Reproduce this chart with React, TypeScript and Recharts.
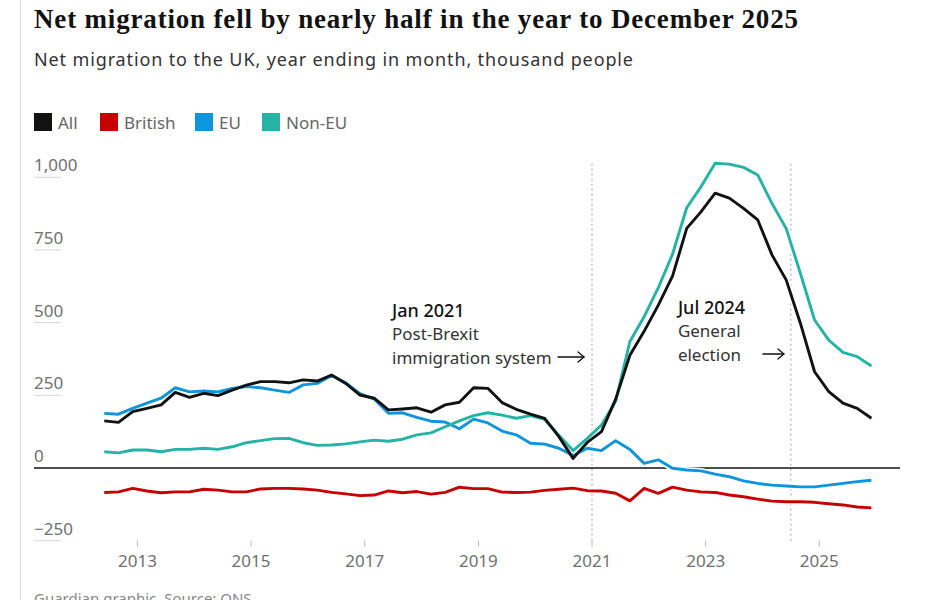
import React from 'react';
import { LineChart, Line, XAxis, YAxis, ReferenceLine } from 'recharts';

const periods = [
  'Jun 2012', 'Sep 2012', 'Dec 2012',
  'Mar 2013', 'Jun 2013', 'Sep 2013', 'Dec 2013',
  'Mar 2014', 'Jun 2014', 'Sep 2014', 'Dec 2014',
  'Mar 2015', 'Jun 2015', 'Sep 2015', 'Dec 2015',
  'Mar 2016', 'Jun 2016', 'Sep 2016', 'Dec 2016',
  'Mar 2017', 'Jun 2017', 'Sep 2017', 'Dec 2017',
  'Mar 2018', 'Jun 2018', 'Sep 2018', 'Dec 2018',
  'Mar 2019', 'Jun 2019', 'Sep 2019', 'Dec 2019',
  'Mar 2020', 'Jun 2020', 'Sep 2020', 'Dec 2020',
  'Mar 2021', 'Jun 2021', 'Sep 2021', 'Dec 2021',
  'Mar 2022', 'Jun 2022', 'Sep 2022', 'Dec 2022',
  'Mar 2023', 'Jun 2023', 'Sep 2023', 'Dec 2023',
  'Mar 2024', 'Jun 2024', 'Sep 2024', 'Dec 2024',
  'Mar 2025', 'Jun 2025', 'Sep 2025', 'Dec 2025',
];

const allValues = [
  162, 157, 194,
  205, 217, 260, 243,
  257, 249, 268, 285,
  297, 297, 293, 303,
  299, 320, 291, 251,
  240, 200, 203, 207,
  192, 217, 226, 276,
  274, 225, 202, 185,
  171, 108, 33, 88,
  125, 237, 388, 470,
  560, 660, 824, 881,
  945, 928, 893, 853,
  733, 647, 498, 331,
  263, 223, 205, 171,
];

const britishValues = [
  -84, -82, -70,
  -79, -85, -82, -82,
  -73, -76, -82, -82,
  -72, -70, -70, -72,
  -76, -84, -89, -95,
  -93, -79, -85, -81,
  -90, -84, -66, -71,
  -71, -83, -84, -83,
  -77, -73, -69, -78,
  -79, -87, -113, -70,
  -87, -66, -76, -82,
  -84, -93, -99, -107,
  -114, -116, -116, -118,
  -123, -127, -134, -137,
];

const euValues = [
  188, 185, 205,
  223, 240, 276, 262,
  265, 262, 274, 280,
  276, 268, 260, 286,
  291, 318, 293, 256,
  237, 188, 190, 174,
  161, 158, 135, 168,
  155, 127, 114, 85,
  82, 68, 43, 68,
  60, 94, 64, 16,
  28, -1, -7, -10,
  -21, -30, -44, -53,
  -59, -62, -65, -65,
  -59, -53, -47, -42,
];

const nonEuValues = [
  56, 52, 62,
  62, 56, 64, 64,
  68, 64, 73, 87,
  94, 101, 102, 87,
  78, 79, 83, 90,
  96, 92, 99, 114,
  121, 142, 162, 180,
  190, 182, 171, 180,
  167, 113, 60, 102,
  148, 230, 435, 520,
  620, 735, 895, 967,
  1048, 1045, 1034, 1008,
  910, 824, 670, 509,
  440, 398, 383, 351,
];

const xTicks = [2013, 2015, 2017, 2019, 2021, 2023, 2025];
const yTicks = [-250, 0, 250, 500, 750, 1000];

const MONTHS: Record<string, number> = {
  Jan: 0, Feb: 1, Mar: 2, Apr: 3, May: 4, Jun: 5,
  Jul: 6, Aug: 7, Sep: 8, Oct: 9, Nov: 10, Dec: 11,
};
const toYear = (p: string) => {
  const [m, y] = p.split(' ');
  return Number(y) + MONTHS[m] / 12;
};

const data = periods.map((p, i) => ({
  t: toYear(p),
  period: p,
  all: allValues[i],
  british: britishValues[i],
  eu: euValues[i],
  nonEu: nonEuValues[i],
}));

const series = [
  { key: 'eu', name: 'EU', color: '#0f95db' },
  { key: 'nonEu', name: 'Non-EU', color: '#25b3a5' },
  { key: 'british', name: 'British', color: '#c70000' },
  { key: 'all', name: 'All', color: '#121212' },
];

const legendItems = [
  { name: 'All', color: '#121212', x: 34 },
  { name: 'British', color: '#c70000', x: 100 },
  { name: 'EU', color: '#0f95db', x: 195 },
  { name: 'Non-EU', color: '#25b3a5', x: 262 },
];

const SANS = "'Noto Sans', 'Open Sans', sans-serif";
const SERIF = "'Liberation Serif', 'DejaVu Serif', serif";

const fmtY = (v: number) => {
  if (v < 0) return '\u2212' + Math.abs(v).toLocaleString('en-GB');
  return v.toLocaleString('en-GB');
};

const YLabel = (props: any) => {
  const { viewBox, value } = props;
  const x = viewBox.x;
  const y = viewBox.y;
  return (
    <g>
      {value !== 0 && (
        <line x1={x} x2={x + 27} y1={y} y2={y} stroke="#d6d6d6" strokeWidth={1} />
      )}
      <text x={x} y={y - 6} fill="#707070" fontSize={17} fontFamily={SANS}>
        {fmtY(value)}
      </text>
    </g>
  );
};

const Arrow = ({ x1, x2, y }: { x1: number; x2: number; y: number }) => (
  <g stroke="#121212" strokeWidth={1.3} fill="none" strokeLinecap="round" strokeLinejoin="round">
    <path d={`M${x1},${y} H${x2}`} />
    <path d={`M${x2 - 6},${y - 5} L${x2},${y} L${x2 - 6},${y + 5}`} />
  </g>
);

const Annot = (props: any) => {
  const { viewBox, head, lines, textDx, arrowFrom, arrowGap, baseY } = props;
  const lx = viewBox.x;
  const tx = lx - textDx;
  return (
    <g>
      <text x={tx} y={baseY} fill="#121212" fontSize={18} fontWeight={500} fontFamily={SANS}>
        {head}
      </text>
      {lines.map((l: string, i: number) => (
        <text key={i} x={tx} y={baseY + 24 * (i + 1) - 1} fill="#333" fontSize={17} fontFamily={SANS}>
          {l}
        </text>
      ))}
      <Arrow x1={lx - arrowFrom} x2={lx - arrowGap} y={baseY + 40} />
    </g>
  );
};

export default function App() {
  return (
    <div style={{ position: 'absolute', left: 0, top: 0, width: 936, height: 600, background: '#fff', overflow: 'hidden' }}>
      <svg width={936} height={600} style={{ position: 'absolute', left: 0, top: 0 }}>
        <line x1={20.5} x2={20.5} y1={0} y2={600} stroke="#dcdcdc" strokeWidth={1} />
        <text x={34} y={28} fontFamily={SERIF} fontWeight={700} fontSize={27} fill="#121212"
          textLength={764} lengthAdjust="spacing">
          Net migration fell by nearly half in the year to December 2025
        </text>
        <text x={34} y={66} fontFamily={SANS} fontSize={18} fill="#333"
          textLength={599} lengthAdjust="spacing">
          Net migration to the UK, year ending in month, thousand people
        </text>
        {legendItems.map((it) => (
          <g key={it.name}>
            <rect x={it.x} y={113} width={18} height={18} fill={it.color} />
            <text x={it.x + 24} y={129} fontFamily={SANS} fontSize={17} fill="#666">
              {it.name}
            </text>
          </g>
        ))}
        <text x={34} y={604} fontFamily={SANS} fontSize={15} fill="#888">
          Guardian graphic. Source: ONS
        </text>
      </svg>
      <div style={{ position: 'absolute', left: 0, top: 0 }}>
        <LineChart width={936} height={600} data={data}
          margin={{ top: 162.7, right: 36, bottom: 29.3, left: 34 }}>
          <XAxis dataKey="t" type="number" domain={[2011.18, 2026.42]} ticks={xTicks}
            allowDataOverflow height={30} axisLine={false}
            tickLine={{ stroke: '#bbbbbb' }} tickSize={6} tickMargin={8}
            tickFormatter={(v: number) => String(v)}
            tick={{ fill: '#707070', fontSize: 17, fontFamily: SANS }} />
          <YAxis type="number" domain={[-250, 1050]} ticks={yTicks} width={0} hide />
          {yTicks.map((v) => (
            <ReferenceLine key={'yl' + v} y={v} stroke="none" strokeOpacity={0}
              label={<YLabel value={v} />} />
          ))}
          <ReferenceLine x={2021} stroke="#a0a0a0" strokeDasharray="2 3" strokeWidth={1}
            label={<Annot head="Jan 2021" lines={['Post-Brexit', 'immigration system']}
              textDx={200} arrowFrom={34} arrowGap={8} baseY={317} />} />
          <ReferenceLine x={2024.5} stroke="#a0a0a0" strokeDasharray="2 3" strokeWidth={1}
            label={<Annot head="Jul 2024" lines={['General', 'election']}
              textDx={113} arrowFrom={28} arrowGap={7} baseY={314} />} />
          <ReferenceLine y={0} stroke="#121212" strokeWidth={1.5} />
          {series.map((s) => (
            <Line key={s.key + '-halo'} dataKey={s.key} type="linear" stroke="#ffffff"
              strokeWidth={6} dot={false} activeDot={false} isAnimationActive={false}
              strokeLinejoin="round" legendType="none" />
          ))}
          {series.map((s) => (
            <Line key={s.key} dataKey={s.key} name={s.name} type="linear" stroke={s.color}
              strokeWidth={2.9} dot={false} activeDot={false} isAnimationActive={false}
              strokeLinejoin="round" />
          ))}
        </LineChart>
      </div>
    </div>
  );
}
